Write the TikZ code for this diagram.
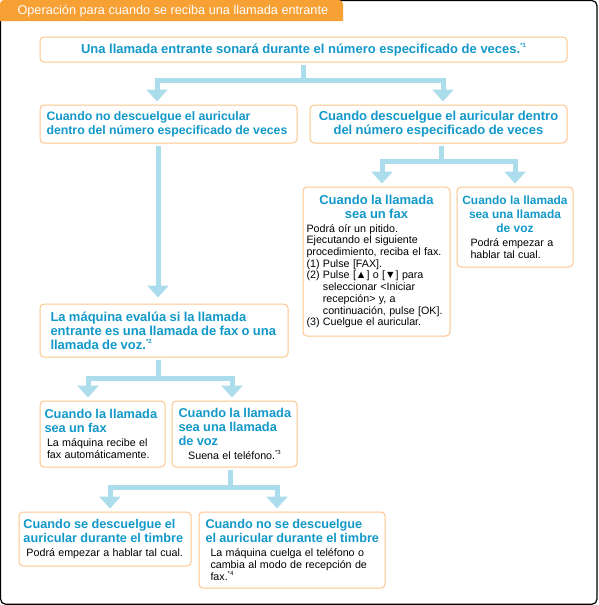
\documentclass[tikz,border=0pt]{standalone}
\usepackage{fontspec}
\setmainfont{Liberation Sans}
\usepackage{tikz}
\usetikzlibrary{arrows.meta}
\definecolor{headorange}{HTML}{F7A033}
\definecolor{boxorange}{HTML}{FDC68C}
\definecolor{titleblue}{HTML}{1299C9}
\definecolor{flowblue}{HTML}{ACDDEC}
\newcommand{\hdfont}[1][13]{\fontsize{#1}{14}\selectfont\bfseries\color{titleblue}}
\newcommand{\bdfont}[1][12]{\fontsize{10.7}{#1}\selectfont\color{black}}
\newcommand{\starnote}[1]{\raisebox{0.9ex}{\fontsize{6}{6}\selectfont*#1}}

\begin{document}
\begin{tikzpicture}[
    x=1pt, y=-1pt,
    stepbox/.style={rectangle, draw=boxorange, fill=white, line width=1pt,
                    rounded corners=4pt, inner xsep=3pt, inner ysep=2pt, align=left},
    flow/.style={draw=flowblue, line width=5pt, shorten <=2pt, shorten >=3pt,
                 -{Triangle[width=21pt,length=12pt]}}
]
\useasboundingbox (0,0) rectangle (599,605);

% Frame and header tab
\draw[line width=1.2pt, rounded corners=5pt] (0.6,0.6) rectangle (597,604.2);
\fill[headorange] (0,21) [rounded corners=4pt] |- (343,0) [sharp corners] -- (343,21) -- cycle;
\node[anchor=west, text=white, font=\fontsize{12.7}{14}\selectfont] (header) at (14,11)
    {Operación para cuando se reciba una llamada entrante};

% First level
\node[stepbox, minimum width=527pt, minimum height=25pt, align=center] (ring) at (303.5,49.5)
    {\hdfont Una llamada entrante sonará durante el número especificado de veces.\starnote{1}};
\node[stepbox, text width=251pt, minimum height=38pt] (noanswer) at (168.5,124)
    {\hdfont[12.3]\leftskip=3.5pt Cuando no descuelgue el auricular\\dentro del número especificado de veces\par};
\node[stepbox, text width=251pt, minimum height=38pt, align=center] (answer) at (438.5,124)
    {\hdfont Cuando descuelgue el auricular dentro\\del número especificado de veces\par};

% Answered within the rings
\node[stepbox, text width=141pt, minimum height=149pt] (faxans) at (376.5,261.5)
    {{\centering\hdfont Cuando la llamada\\sea un fax\par}\vspace{2pt}
     \bdfont[11.7]\leftskip=0.5pt Podrá oír un pitido.\\
     Ejecutando el siguiente\\
     procedimiento, reciba el fax.\\
     (1) Pulse [FAX].\\
     (2) Pulse [▲] o [▼] para\\
     \phantom{(2) }seleccionar <Iniciar\\
     \phantom{(2) }recepción> y, a\\
     \phantom{(2) }continuación, pulse [OK].\\
     (3) Cuelgue el auricular.\par};
\node[stepbox, text width=110pt, minimum height=80pt] (voiceans) at (515,227)
    {{\centering\hdfont[11.9] Cuando la llamada\\sea una llamada\\de voz\par}\vspace{2pt}
     \bdfont\leftskip=10.5pt Podrá empezar a\\hablar tal cual.\par};

% Not answered
\node[stepbox, text width=242pt, minimum height=53pt] (detect) at (164,330.5)
    {\hdfont\leftskip=7.5pt La máquina evalúa si la llamada\\entrante es una llamada de fax o una\\llamada de voz.\starnote{2}\par};
\node[stepbox, text width=119pt, minimum height=66pt] (faxauto) at (102.5,434)
    {{\hdfont[12.8]\leftskip=1.5pt Cuando la llamada\\sea un fax\par}\vspace{2pt}
     \bdfont\leftskip=4pt La máquina recibe el\\fax automáticamente.\par};
\node[stepbox, text width=119pt, minimum height=66pt] (voiceauto) at (234.5,434)
    {{\hdfont[12.8]\leftskip=3.5pt Cuando la llamada\\sea una llamada\\de voz\par}\vspace{2pt}
     \bdfont\centering Suena el teléfono.\starnote{3}\par};

% During the ringing
\node[stepbox, text width=166pt, minimum height=54pt] (pickup) at (105,539)
    {{\hdfont[12.7]\leftskip=1.5pt Cuando se descuelgue el\\auricular durante el timbre\par}\vspace{2pt}
     \bdfont\leftskip=4.5pt Podrá empezar a hablar tal cual.\par};
\node[stepbox, text width=180pt, minimum height=76pt] (nopickup) at (292,550)
    {{\hdfont[12.7]\leftskip=3.5pt Cuando no se descuelgue\\el auricular durante el timbre\par}\vspace{2pt}
     \bdfont\leftskip=8.5pt La máquina cuelga el teléfono o\\cambia al modo de recepción de\\fax.\starnote{4}\par};

% Arrows
\draw[flow] (ring.south) -- ++(0,18) -| ([xshift=-11.5pt]noanswer.north);
\draw[flow] (ring.south) -- ++(0,18) -| ([xshift=4.5pt]answer.north);
\draw[flow, shorten >=6pt] ([xshift=-10.5pt]noanswer.south) -- ([xshift=-6pt]detect.north);
\draw[flow] ([xshift=2.5pt]answer.south) -- ++(0,18) -| ([xshift=5.5pt]faxans.north);
\draw[flow] ([xshift=2.5pt]answer.south) -- ++(0,18) -| (voiceans.north);
\draw[flow] ([xshift=-6pt]detect.south) -- ++(0,21) -| ([xshift=-14.5pt]faxauto.north);
\draw[flow] ([xshift=-6pt]detect.south) -- ++(0,21) -| ([xshift=-2.5pt]voiceauto.north);
\draw[flow] ([xshift=-4.5pt]voiceauto.south) -- ++(0,20) -| ([xshift=5pt]pickup.north);
\draw[flow] ([xshift=-4.5pt]voiceauto.south) -- ++(0,20) -| ([xshift=-15pt]nopickup.north);

\end{tikzpicture}
\end{document}
